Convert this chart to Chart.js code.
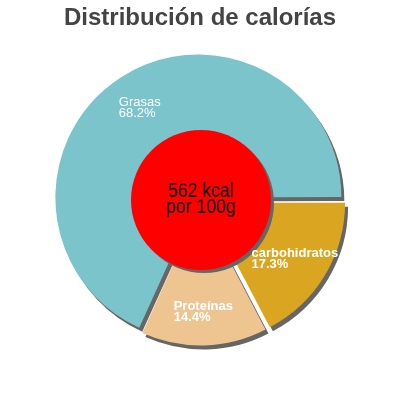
<!DOCTYPE html>
<html><head><meta charset="utf-8">
<script src="https://cdn.jsdelivr.net/npm/chart.js@4.4.0/dist/chart.umd.min.js"></script>
<style>html,body{margin:0;padding:0;background:#fff}#wrap{width:400px;height:400px}</style>
</head><body><div id="wrap"><canvas id="c" width="400" height="400"></canvas></div>
<script>
const titleText = 'Distribución de calorías';
const categories = ['carbohidratos', 'Proteínas', 'Grasas'];
const percentages = [17.3, 14.4, 68.2];
const centerLines = ['562 kcal', 'por 100g'];
const sliceColors = ['#DAA520', '#EEC591', '#7BC4CC'];
const labelBold = [true, true, false];
const sliceOffsets = [21, 18, 12];

const FONT = "'Liberation Sans', Arial, sans-serif";

const shadowPlugin = {
  id: 'sliceShadow',
  beforeDatasetsDraw(chart) {
    const ctx = chart.ctx;
    ctx.save();
    ctx.shadowColor = '#666666';
    ctx.shadowOffsetX = 3;
    ctx.shadowOffsetY = 4;
    ctx.shadowBlur = 0;
  },
  afterDatasetsDraw(chart) {
    chart.ctx.restore();
  }
};

const overlayPlugin = {
  id: 'overlay',
  afterDraw(chart) {
    const ctx = chart.ctx;
    const meta = chart.getDatasetMeta(0);
    const a0 = meta.data[0];
    const cx = a0.x, cy = a0.y;
    ctx.save();
    ctx.shadowColor = '#666666';
    ctx.shadowOffsetX = 3;
    ctx.shadowOffsetY = 3;
    ctx.shadowBlur = 0;
    ctx.fillStyle = '#FF0000';
    ctx.beginPath();
    ctx.arc(cx + 1, cy, 70, 0, Math.PI * 2);
    ctx.fill();
    ctx.restore();
    ctx.save();
    ctx.fillStyle = '#000000';
    ctx.font = '20px ' + FONT;
    ctx.textAlign = 'center';
    ctx.textBaseline = 'alphabetic';
    ctx.translate(cx + 1, cy);
    ctx.scale(0.88, 1);
    ctx.fillText(centerLines[0], 0, -3.5);
    ctx.fillText(centerLines[1], 0, 13);
    ctx.restore();
    meta.data.forEach((arc, i) => {
      const p = arc.getProps(['startAngle', 'endAngle', 'outerRadius', 'x', 'y', 'circumference'], true);
      const off = (arc.options.offset || 0) / 4;
      const fix = 1 - Math.sin(Math.min(Math.PI, p.circumference || 0));
      const t = off * (1 + fix);
      const mid = (p.startAngle + p.endAngle) / 2;
      const d = t + p.outerRadius * 0.75;
      const lx = p.x + Math.cos(mid) * d;
      const ly = p.y + Math.sin(mid) * d;
      const lines = [categories[i], percentages[i].toFixed(1) + '%'];
      ctx.save();
      ctx.fillStyle = '#FFFFFF';
      ctx.font = (labelBold[i] ? 'bold ' : '') + '13px ' + FONT;
      ctx.textAlign = 'left';
      ctx.textBaseline = 'alphabetic';
      const w = Math.max(...lines.map(s => ctx.measureText(s).width));
      ctx.fillText(lines[0], lx - w / 2, ly - 0.8);
      ctx.fillText(lines[1], lx - w / 2, ly + 10.5);
      ctx.restore();
    });
  }
};

new Chart(document.getElementById('c'), {
  type: 'pie',
  data: {
    labels: categories,
    datasets: [{
      data: percentages,
      backgroundColor: sliceColors,
      borderWidth: 0,
      offset: sliceOffsets,
      hoverOffset: 0,
      radius: 140,
      rotation: 90
    }]
  },
  options: {
    responsive: false,
    animation: false,
    devicePixelRatio: 1,
    rotation: 90,
    radius: 140,
    layout: { padding: { top: 0, bottom: 32.8, left: 0, right: 0 } },
    plugins: {
      legend: { display: false },
      tooltip: { enabled: false },
      title: {
        display: true,
        text: titleText,
        color: '#444444',
        font: { family: FONT, size: 24, weight: 'bold', lineHeight: 1.2 },
        padding: { top: 4, bottom: 0 }
      }
    }
  },
  plugins: [shadowPlugin, overlayPlugin]
});
</script>
</body></html>
